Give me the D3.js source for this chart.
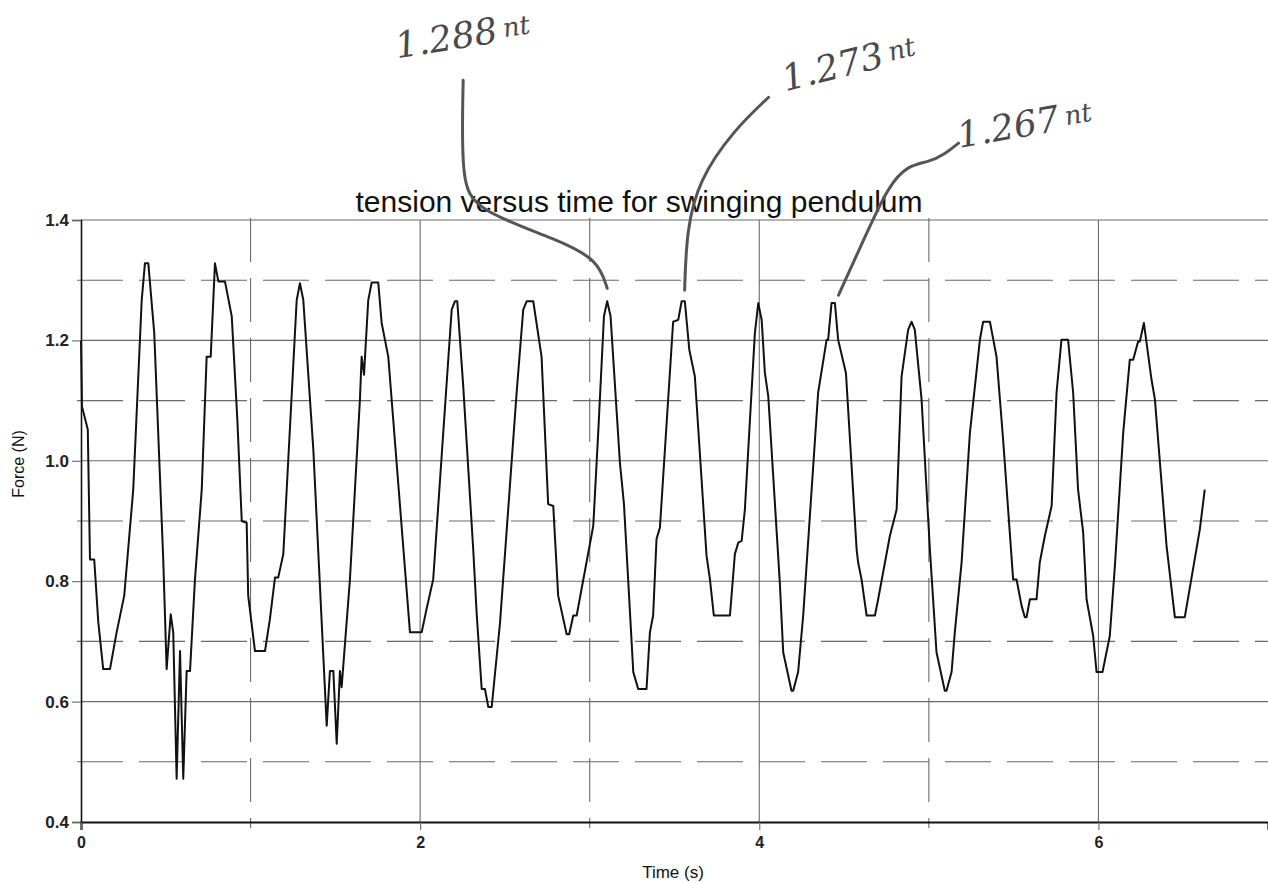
<!DOCTYPE html>
<html>
<head>
<meta charset="utf-8">
<script src="https://cdn.jsdelivr.net/npm/d3@7"></script>
<style>
html,body{margin:0;padding:0;background:#fff;}
svg{display:block;}
</style>
</head>
<body>
<svg id="chart" width="1268" height="883"></svg>
<script>
// ---------------- DATA ----------------
const chartTitle = "tension versus time for swinging pendulum";
const xTitle = "Time (s)";
const yTitle = "Force (N)";
const xMajorTicks = [0, 2, 4, 6];
const xMinorTicks = [1, 3, 5];
const yMajorTicks = [0.4, 0.6, 0.8, 1.0, 1.2, 1.4];
const yMinorTicks = [0.5, 0.7, 0.9, 1.1, 1.3];
const timeValues = [
 0,0.006,0.040,0.053,0.078,0.102,0.131,0.171,0.210,0.255,0.308,0.358,0.377,0.397,0.432,
 0.485,0.505,0.529,0.544,0.564,0.584,0.603,0.623,0.643,0.672,0.712,0.741,0.765,0.790,0.810,
 0.849,0.889,0.922,0.948,0.977,0.986,1.026,1.085,1.114,1.144,1.163,1.193,1.272,1.291,1.311,
 1.370,1.449,1.468,1.488,1.508,1.527,1.537,1.586,1.645,1.655,1.669,1.694,1.714,1.753,1.773,
 1.812,1.940,2.009,2.038,2.077,2.186,2.205,2.219,2.254,2.313,2.333,2.363,2.382,2.402,2.422,
 2.471,2.569,2.608,2.628,2.667,2.716,2.755,2.785,2.814,2.864,2.879,2.903,2.923,3.021,3.050,
 3.084,3.103,3.123,3.178,3.202,3.257,3.286,3.335,3.355,3.374,3.394,3.414,3.492,3.522,3.542,
 3.561,3.587,3.620,3.689,3.709,3.732,3.827,3.856,3.876,3.896,3.915,3.974,3.994,4.014,4.033,
 4.053,4.121,4.141,4.190,4.200,4.229,4.259,4.347,4.397,4.406,4.426,4.446,4.465,4.511,4.574,
 4.583,4.603,4.633,4.682,4.701,4.770,4.810,4.839,4.878,4.898,4.917,4.957,5.006,5.025,5.045,
 5.094,5.104,5.134,5.153,5.193,5.242,5.301,5.320,5.360,5.399,5.438,5.497,5.517,5.547,5.566,
 5.576,5.596,5.635,5.654,5.684,5.724,5.753,5.782,5.821,5.851,5.880,5.910,5.930,5.969,5.989,
 6.024,6.067,6.097,6.146,6.185,6.205,6.234,6.244,6.268,6.313,6.333,6.402,6.451,6.509,6.598,
 6.627
];
const forceValues = [
 1.200,1.090,1.052,0.836,0.836,0.732,0.654,0.654,0.715,0.776,0.952,1.267,1.328,1.328,1.212,
 0.836,0.654,0.745,0.715,0.472,0.684,0.472,0.651,0.651,0.803,0.952,1.173,1.173,1.328,1.298,
 1.298,1.240,1.068,0.900,0.897,0.776,0.684,0.684,0.737,0.806,0.806,0.845,1.267,1.295,1.267,
 1.019,0.560,0.651,0.651,0.530,0.651,0.624,0.803,1.102,1.173,1.143,1.267,1.296,1.296,1.229,
 1.173,0.715,0.715,0.754,0.803,1.251,1.265,1.265,1.124,0.853,0.748,0.621,0.621,0.591,0.591,
 0.731,1.113,1.251,1.265,1.265,1.173,0.928,0.925,0.776,0.712,0.712,0.743,0.743,0.892,1.046,
 1.240,1.265,1.240,0.997,0.928,0.649,0.621,0.621,0.715,0.743,0.870,0.889,1.231,1.234,1.265,
 1.265,1.185,1.140,0.842,0.803,0.743,0.743,0.845,0.864,0.867,0.919,1.212,1.262,1.234,1.146,
 1.107,0.798,0.682,0.618,0.618,0.649,0.743,1.113,1.201,1.201,1.262,1.262,1.201,1.146,0.853,
 0.831,0.803,0.743,0.743,0.770,0.875,0.919,1.140,1.218,1.231,1.218,1.102,0.853,0.770,0.682,
 0.618,0.618,0.649,0.715,0.831,1.046,1.201,1.231,1.231,1.173,1.035,0.803,0.803,0.759,0.740,
 0.740,0.770,0.770,0.831,0.875,0.925,1.113,1.201,1.201,1.113,0.952,0.881,0.770,0.709,0.649,
 0.649,0.709,0.825,1.046,1.168,1.168,1.198,1.198,1.229,1.135,1.102,0.858,0.740,0.740,0.886,
 0.952
];
// handwritten notes: time of the marked peak and the written text
const noteTimes = [3.103, 3.542, 4.426];
const noteValues = ["1.288", "1.273", "1.267"];
const noteUnits = ["nt", "nt", "nt"];

// ---------------- LAYOUT ----------------
const svg = d3.select("#chart");
const L = 81, R = 1268, T = 220, B = 822;
const x = d3.scaleLinear().domain([0, 7]).range([L, R]);
const y = d3.scaleLinear().domain([0.4, 1.4]).range([B, T]);
const font = "'Liberation Sans', Arial, Helvetica, sans-serif";
const gridColor = "#6a6a6a";

// minor (dashed) grid
svg.append("g").selectAll("line").data(yMinorTicks).join("line")
  .attr("x1", L - 4).attr("x2", R).attr("y1", d => y(d)).attr("y2", d => y(d))
  .attr("stroke", gridColor).attr("stroke-width", 1.1).attr("stroke-dasharray", "46,16");
svg.append("g").selectAll("line").data(xMinorTicks).join("line")
  .attr("x1", d => x(d)).attr("x2", d => x(d)).attr("y1", T - 2).attr("y2", B + 6)
  .attr("stroke", gridColor).attr("stroke-width", 1.1).attr("stroke-dasharray", "44,16");

// major (solid) grid
svg.append("g").selectAll("line").data(yMajorTicks.filter(d => d > 0.4)).join("line")
  .attr("x1", L).attr("x2", R).attr("y1", d => y(d)).attr("y2", d => y(d))
  .attr("stroke", gridColor).attr("stroke-width", 1.1);
svg.append("g").selectAll("line").data(xMajorTicks.filter(d => d > 0)).join("line")
  .attr("x1", d => x(d)).attr("x2", d => x(d)).attr("y1", T).attr("y2", B)
  .attr("stroke", gridColor).attr("stroke-width", 1.1);

// axes
const yAxis = d3.axisLeft(y).tickValues(yMajorTicks).tickFormat(d3.format(".1f"))
  .tickSize(9).tickPadding(3);
const gy = svg.append("g").attr("transform", `translate(${L},0)`).call(yAxis);
gy.select(".domain").attr("stroke", "#111").attr("stroke-width", 1.6);
gy.selectAll(".tick line").attr("stroke", gridColor).attr("stroke-width", 1.1);
gy.selectAll("text").attr("font-family", font).attr("font-size", 17)
  .attr("font-weight", "bold").attr("fill", "#222");

const xAxis = d3.axisBottom(x).tickValues(xMajorTicks).tickFormat(d3.format("d"))
  .tickSize(8).tickPadding(7);
const gx = svg.append("g").attr("transform", `translate(0,${B})`).call(xAxis);
gx.select(".domain").attr("stroke", "#111").attr("stroke-width", 2.2);
gx.selectAll(".tick line").attr("stroke", gridColor).attr("stroke-width", 1.1);
gx.selectAll("text").attr("font-family", font).attr("font-size", 16)
  .attr("font-weight", "bold").attr("fill", "#222");

// axis titles
svg.append("text").attr("x", 673).attr("y", 878).attr("text-anchor", "middle")
  .attr("font-family", font).attr("font-size", 17).attr("fill", "#111").text(xTitle);
svg.append("text").attr("transform", `translate(24,464) rotate(-90)`)
  .attr("text-anchor", "middle").attr("font-family", font).attr("font-size", 16)
  .attr("fill", "#111").text(yTitle);

// title
svg.append("text").attr("x", 639).attr("y", 212).attr("text-anchor", "middle")
  .attr("font-family", font).attr("font-size", 30).attr("fill", "#111").text(chartTitle);

// data line
const pts = timeValues.map((t, i) => [t, forceValues[i]]);
svg.append("path").datum(pts)
  .attr("fill", "none").attr("stroke", "#111").attr("stroke-width", 2)
  .attr("stroke-linejoin", "round")
  .attr("d", d3.line().x(d => x(d[0])).y(d => y(d[1])));

// handwritten annotations (leader offsets relative to the marked peak)
const leaderOffsets = [
  [[-144,-221],[-146,-121],[-132,-91],[-47,-61],[-9,-41],[0,-13]],
  [[87,-204],[52,-171],[17,-121],[5,-71],[3,-11]],
  [[127,-160],[112,-148],[97,-141],[77,-138],[57,-118],[32,-63],[7,-8]]
];
const textOffsets = [[-210,-243,-9],[104,-210,-14],[128,-155,-10]];
const noteFont = "'DejaVu Serif', 'Liberation Serif', serif";
noteTimes.forEach((t, i) => {
  const idx = timeValues.indexOf(t);
  const px = x(t), py = y(forceValues[idx]);
  const linePts = leaderOffsets[i].map(o => [px + o[0], py + o[1]]);
  svg.append("path").datum(linePts)
    .attr("fill", "none").attr("stroke", "#555").attr("stroke-width", 3)
    .attr("stroke-linecap", "round")
    .attr("d", d3.line().curve(d3.curveBasis));
  const to = textOffsets[i];
  const tx = svg.append("text")
    .attr("transform", `translate(${px + to[0]},${py + to[1]}) rotate(${to[2]})`)
    .attr("font-family", noteFont).attr("font-style", "italic")
    .attr("fill", "#4a4a4a");
  tx.append("tspan").attr("font-size", 36).text(noteValues[i]);
  tx.append("tspan").attr("font-size", 26).attr("dx", 6).attr("dy", -4).text(noteUnits[i]);
});
</script>
</body>
</html>
